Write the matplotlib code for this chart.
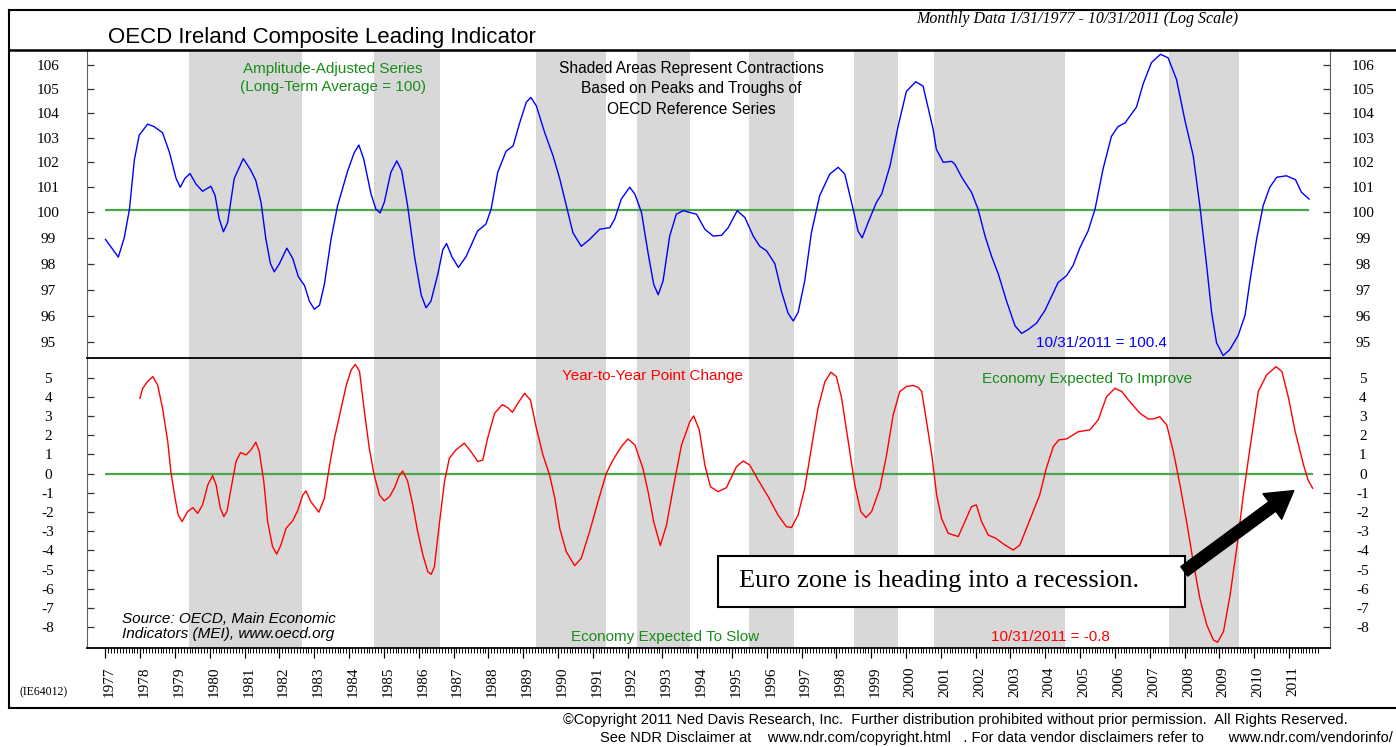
import numpy as np
import matplotlib.pyplot as plt
import matplotlib.transforms as mtransforms
from matplotlib.ticker import FixedLocator, FixedFormatter, NullLocator
from matplotlib.patches import Rectangle, FancyArrowPatch
from matplotlib.lines import Line2D

# ---- data ----
cli_dates = [1977.00, 1977.37, 1977.54, 1977.69, 1977.83, 1977.97, 1978.21, 1978.40, 1978.64, 1978.84,
             1979.03, 1979.15, 1979.28, 1979.43, 1979.60, 1979.79, 1980.03, 1980.15, 1980.27, 1980.39,
             1980.51, 1980.70, 1980.96, 1981.18, 1981.32, 1981.47, 1981.61, 1981.74, 1981.85, 1982.00,
             1982.21, 1982.38, 1982.54, 1982.72, 1982.86, 1983.00, 1983.15, 1983.29, 1983.48, 1983.67,
             1983.96, 1984.15, 1984.28, 1984.42, 1984.63, 1984.77, 1984.89, 1985.01, 1985.20, 1985.37,
             1985.51, 1985.68, 1985.88, 1986.07, 1986.21, 1986.35, 1986.55, 1986.69, 1986.80, 1986.95,
             1987.14, 1987.36, 1987.69, 1987.93, 1988.08, 1988.27, 1988.51, 1988.71, 1988.90, 1989.09,
             1989.22, 1989.38, 1989.62, 1989.86, 1990.05, 1990.24, 1990.43, 1990.67, 1990.91, 1991.20,
             1991.49, 1991.63, 1991.82, 1992.06, 1992.21, 1992.40, 1992.59, 1992.75, 1992.88, 1993.02,
             1993.21, 1993.40, 1993.60, 1993.79, 1993.98, 1994.22, 1994.46, 1994.70, 1994.89, 1995.15,
             1995.37, 1995.61, 1995.80, 1995.99, 1996.23, 1996.42, 1996.61, 1996.76, 1996.90, 1997.09,
             1997.28, 1997.52, 1997.81, 1998.05, 1998.24, 1998.48, 1998.62, 1998.74, 1998.91, 1999.15,
             1999.30, 1999.54, 1999.77, 2000.01, 2000.28, 2000.49, 2000.63, 2000.78, 2000.87, 2001.07,
             2001.31, 2001.40, 2001.60, 2001.88, 2002.07, 2002.27, 2002.46, 2002.65, 2002.89, 2003.13,
             2003.32, 2003.51, 2003.75, 2003.99, 2004.18, 2004.37, 2004.61, 2004.80, 2004.99, 2005.23,
             2005.43, 2005.66, 2005.90, 2006.09, 2006.29, 2006.62, 2006.81, 2007.05, 2007.31, 2007.53,
             2007.77, 2008.01, 2008.25, 2008.44, 2008.63, 2008.78, 2008.92, 2009.11, 2009.30, 2009.54,
             2009.74, 2009.88, 2010.07, 2010.26, 2010.45, 2010.65, 2010.93, 2011.19, 2011.36, 2011.58]
cli_values = [98.94, 98.25, 99.0, 100.13, 102.1, 103.1, 103.55, 103.45, 103.2, 102.4,
              101.35, 101.0, 101.35, 101.55, 101.13, 100.84, 101.04, 100.67, 99.74, 99.24,
              99.6, 101.35, 102.15, 101.67, 101.27, 100.4, 98.94, 98.0, 97.68, 98.0,
              98.6, 98.2, 97.5, 97.15, 96.55, 96.25, 96.4, 97.2, 98.94, 100.27,
              101.66, 102.4, 102.7, 102.13, 100.73, 100.13, 99.98, 100.4, 101.6, 102.06,
              101.66, 100.27, 98.27, 96.8, 96.3, 96.55, 97.6, 98.53, 98.78, 98.27,
              97.85, 98.27, 99.27, 99.54, 100.13, 101.6, 102.45, 102.66, 103.6, 104.45,
              104.65, 104.3, 103.2, 102.26, 101.35, 100.27, 99.2, 98.67, 98.94, 99.34,
              99.4, 99.74, 100.53, 101.0, 100.73, 100.0, 98.4, 97.2, 96.8, 97.33,
              99.07, 99.93, 100.07, 100.0, 99.93, 99.34, 99.07, 99.1, 99.4, 100.07,
              99.8, 99.07, 98.67, 98.5, 98.0, 96.93, 96.1, 95.8, 96.13, 97.33,
              99.2, 100.67, 101.53, 101.8, 101.53, 100.13, 99.27, 99.0, 99.6, 100.4,
              100.73, 101.86, 103.45, 104.9, 105.3, 105.12, 104.25, 103.33, 102.53, 102.0,
              102.04, 101.93, 101.4, 100.8, 100.13, 99.07, 98.27, 97.6, 96.55, 95.62,
              95.33, 95.48, 95.72, 96.2, 96.73, 97.27, 97.53, 97.93, 98.6, 99.27,
              100.13, 101.73, 103.05, 103.45, 103.6, 104.25, 105.2, 106.1, 106.45, 106.3,
              105.4, 103.72, 102.27, 100.27, 98.0, 96.12, 94.98, 94.5, 94.72, 95.25,
              96.02, 97.33, 98.94, 100.27, 101.0, 101.4, 101.46, 101.3, 100.8, 100.53]

yoy_dates = [1977.99, 1978.07, 1978.21, 1978.36, 1978.50, 1978.64, 1978.79, 1978.88, 1979.00, 1979.09,
             1979.20, 1979.36, 1979.51, 1979.65, 1979.79, 1979.94, 1980.08, 1980.18, 1980.30, 1980.40,
             1980.49, 1980.61, 1980.75, 1980.88, 1981.04, 1981.18, 1981.32, 1981.42, 1981.55, 1981.66,
             1981.80, 1981.92, 1982.04, 1982.19, 1982.38, 1982.52, 1982.67, 1982.76, 1982.90, 1983.13,
             1983.29, 1983.44, 1983.58, 1983.77, 1983.92, 1984.06, 1984.18, 1984.30, 1984.44, 1984.58,
             1984.71, 1984.87, 1985.01, 1985.16, 1985.30, 1985.44, 1985.54, 1985.68, 1985.83, 1985.97,
             1986.12, 1986.26, 1986.36, 1986.45, 1986.60, 1986.74, 1986.88, 1987.07, 1987.31, 1987.50,
             1987.70, 1987.84, 1987.98, 1988.18, 1988.40, 1988.55, 1988.69, 1988.85, 1989.04, 1989.21,
             1989.38, 1989.57, 1989.76, 1989.91, 1990.05, 1990.24, 1990.48, 1990.67, 1990.91, 1991.15,
             1991.39, 1991.58, 1991.82, 1992.01, 1992.21, 1992.44, 1992.59, 1992.75, 1992.94, 1993.12,
             1993.31, 1993.55, 1993.79, 1993.90, 1994.06, 1994.22, 1994.38, 1994.60, 1994.84, 1995.13,
             1995.32, 1995.51, 1995.75, 1996.04, 1996.32, 1996.56, 1996.71, 1996.90, 1997.09, 1997.28,
             1997.47, 1997.67, 1997.84, 1998.00, 1998.15, 1998.34, 1998.53, 1998.70, 1998.85, 1999.01,
             1999.25, 1999.44, 1999.63, 1999.82, 2000.01, 2000.20, 2000.35, 2000.45, 2000.59, 2000.74,
             2000.88, 2001.02, 2001.21, 2001.50, 2001.69, 2001.88, 2002.02, 2002.17, 2002.36, 2002.58,
             2002.84, 2003.08, 2003.27, 2003.46, 2003.65, 2003.84, 2004.03, 2004.23, 2004.39, 2004.61,
             2004.95, 2005.28, 2005.52, 2005.76, 2006.00, 2006.20, 2006.43, 2006.72, 2006.96, 2007.10,
             2007.29, 2007.49, 2007.68, 2007.87, 2008.06, 2008.25, 2008.44, 2008.64, 2008.83, 2008.95,
             2009.12, 2009.31, 2009.50, 2009.69, 2009.88, 2010.12, 2010.36, 2010.63, 2010.80, 2010.99,
             2011.18, 2011.42, 2011.55, 2011.68]
yoy_values = [3.93, 4.45, 4.8, 5.06, 4.62, 3.41, 1.67, 0.1, -1.28, -2.15,
              -2.5, -1.98, -1.77, -2.07, -1.63, -0.59, -0.1, -0.59, -1.8, -2.24,
              -1.98, -0.76, 0.63, 1.1, 0.98, 1.24, 1.64, 1.15, -0.42, -2.5,
              -3.8, -4.2, -3.72, -2.85, -2.45, -1.94, -1.11, -0.9, -1.46, -2.01,
              -1.28, 0.45, 1.85, 3.41, 4.62, 5.41, 5.7, 5.32, 3.23, 1.32,
              0.02, -1.11, -1.42, -1.2, -0.76, -0.1, 0.14, -0.38, -1.63, -3.02,
              -4.24, -5.11, -5.25, -4.85, -2.5, -0.42, 0.8, 1.24, 1.59, 1.15,
              0.63, 0.71, 1.85, 3.15, 3.6, 3.45, 3.2, 3.67, 4.19, 3.84,
              2.37, 0.97, -0.07, -1.28, -2.85, -4.07, -4.8, -4.41, -3.02, -1.46,
              0.02, 0.71, 1.41, 1.81, 1.5, 0.28, -0.94, -2.5, -3.75, -2.67,
              -0.76, 1.5, 2.71, 3.01, 2.28, 0.45, -0.68, -0.94, -0.73, 0.37,
              0.66, 0.45, -0.33, -1.2, -2.15, -2.76, -2.81, -2.15, -0.76, 1.32,
              3.41, 4.8, 5.29, 5.06, 3.93, 1.67, -0.59, -1.98, -2.29, -1.98,
              -0.76, 0.97, 3.06, 4.28, 4.54, 4.6, 4.5, 4.28, 2.71, 0.97,
              -1.11, -2.33, -3.11, -3.28, -2.5, -1.72, -1.63, -2.5, -3.2, -3.37,
              -3.72, -3.98, -3.72, -2.85, -1.98, -1.11, 0.28, 1.41, 1.76, 1.81,
              2.19, 2.28, 2.8, 4.01, 4.45, 4.28, 3.75, 3.15, 2.85, 2.85,
              2.97, 2.54, 1.15, -0.59, -2.5, -4.59, -6.5, -7.89, -8.67, -8.79,
              -8.24, -6.32, -3.89, -1.11, 1.32, 4.28, 5.15, 5.58, 5.32, 3.93,
              2.19, 0.45, -0.33, -0.76]

contraction_start = [1979.40, 1984.71, 1989.36, 1992.26, 1995.48, 1998.50, 2000.80, 2007.56]
contraction_end = [1982.64, 1986.62, 1991.37, 1993.78, 1996.78, 1999.76, 2004.56, 2009.56]

top_ticks = [95, 96, 97, 98, 99, 100, 101, 102, 103, 104, 105, 106]
bottom_ticks = [-8, -7, -6, -5, -4, -3, -2, -1, 0, 1, 2, 3, 4, 5]
years = list(range(1977, 2012))
long_term_avg = 100.1

# ---- figure, laid out in pixels ----
W, H = 1396, 747
fig = plt.figure(figsize=(W / 100, H / 100), dpi=100)
SANS = 'Liberation Sans'
SERIF = 'Liberation Serif'
GREEN_TXT = '#1a8c1a'
GREEN_LINE = '#4aa64a'
SHADE = '#d8d8d8'


def box(x0, y0, x1, y1):
    return [x0 / W, 1 - y1 / H, (x1 - x0) / W, (y1 - y0) / H]


def ftext(x, y, s, **kw):
    fig.text(x / W, 1 - y / H, s, **kw)


def fline(xs, ys, **kw):
    fig.add_artist(Line2D([x / W for x in xs], [1 - y / H for y in ys],
                          transform=fig.transFigure, clip_on=False, **kw))


ax1 = fig.add_axes(box(87, 50, 1330, 358))
ax2 = fig.add_axes(box(87, 358, 1330, 648))

for ax in (ax1, ax2):
    for s, e in zip(contraction_start, contraction_end):
        ax.axvspan(s, e, color=SHADE, lw=0, zorder=0)
    ax.set_xlim(1976.47, 2012.18)
    for side in ('left', 'right'):
        ax.spines[side].set_color('#606060')
    ax.tick_params(axis='y', which='both', direction='in', length=5, width=0.9,
                   left=True, right=True, labelleft=True, labelright=True,
                   labelsize=11, color='#303030', pad=28)

# top panel: composite leading indicator (log scale)
ax1.set_yscale('log')
ax1.set_ylim(94.41, 106.63)
ax1.hlines(long_term_avg, cli_dates[0], cli_dates[-1], color=GREEN_LINE, lw=1.6, zorder=2)
ax1.plot(cli_dates, cli_values, color='#0000ff', lw=1.0, zorder=3)
ax1.yaxis.set_major_locator(FixedLocator(top_ticks))
ax1.yaxis.set_major_formatter(FixedFormatter([str(t) for t in top_ticks]))
ax1.yaxis.set_minor_locator(NullLocator())
ax1.xaxis.set_major_locator(NullLocator())
ax1.xaxis.set_minor_locator(NullLocator())

# bottom panel: year-to-year change
ax2.set_ylim(-9.09, 6.03)
ax2.hlines(0, cli_dates[0], yoy_dates[-1], color=GREEN_LINE, lw=1.6, zorder=2)
ax2.plot(yoy_dates, yoy_values, color='#ff0000', lw=1.0, zorder=3)
ax2.yaxis.set_major_locator(FixedLocator(bottom_ticks))
ax2.yaxis.set_major_formatter(FixedFormatter([str(t) for t in bottom_ticks]))
ax2.spines['top'].set_linewidth(1.3)
ax2.spines['bottom'].set_linewidth(1.3)

# date axis
ax2.xaxis.set_major_locator(FixedLocator(years))
ax2.xaxis.set_minor_locator(FixedLocator(np.arange(1977, 2011.9, 1 / 12)))
ax2.xaxis.set_major_formatter(FixedFormatter([str(y) for y in years]))
ax2.tick_params(axis='x', which='major', direction='out', length=7, width=0.9,
                labelsize=11, pad=6, labelrotation=90)
ax2.tick_params(axis='x', which='minor', direction='out', length=3.5, width=0.7)
shift = mtransforms.ScaledTranslation(4 / 100, 0, fig.dpi_scale_trans)
for lab in ax2.get_xticklabels():
    lab.set_fontfamily(SERIF)
    lab.set_va('top')
    lab.set_transform(lab.get_transform() + shift)

right_shift = mtransforms.ScaledTranslation(-6 / 100, 0, fig.dpi_scale_trans)
for ax in (ax1, ax2):
    for tk in ax.yaxis.get_major_ticks():
        for lab in (tk.label1, tk.label2):
            lab.set_fontfamily(SERIF)
            lab.set_horizontalalignment('center')
        tk.label2.set_transform(tk.label2.get_transform() + right_shift)

# outer frame
fline([9, 1400], [10, 10], color='black', lw=1.5)
fline([9, 1400], [50, 50], color='black', lw=1.8)
fline([9, 1400], [708, 708], color='black', lw=1.5)
fline([9, 9], [10, 708], color='black', lw=1.5)

# texts
ftext(108, 37, 'OECD Ireland Composite Leading Indicator', family=SANS, fontsize=16, va='center')
ftext(1077, 19, 'Monthly Data 1/31/1977 - 10/31/2011 (Log Scale)', family=SERIF, style='italic',
      fontsize=11.5, ha='center', va='center')
ftext(333, 69, 'Amplitude-Adjusted Series', family=SANS, fontsize=11, color=GREEN_TXT,
      ha='center', va='center')
ftext(333, 87, '(Long-Term Average = 100)', family=SANS, fontsize=11, color=GREEN_TXT,
      ha='center', va='center')
for yy, s in zip([68, 88, 109], ['Shaded Areas Represent Contractions', 'Based on Peaks and Troughs of',
                                 'OECD Reference Series']):
    ftext(691, yy, s, family=SANS, fontsize=11.2, ha='center', va='center')
ftext(1101, 343, '10/31/2011 = 100.4', family=SANS, fontsize=11, color='#0000ff', ha='center', va='center')
ftext(653, 376, 'Year-to-Year Point Change', family=SANS, fontsize=11, color='#ff0000', ha='center', va='center')
ftext(1087, 379, 'Economy Expected To Improve', family=SANS, fontsize=11, color=GREEN_TXT,
      ha='center', va='center')
ftext(665, 637, 'Economy Expected To Slow', family=SANS, fontsize=11, color=GREEN_TXT,
      ha='center', va='center')
ftext(1050, 637, '10/31/2011 = -0.8', family=SANS, fontsize=11, color='#ff0000', ha='center', va='center')
ftext(122, 619, 'Source: OECD, Main Economic', family=SANS, style='italic', fontsize=11, va='center')
ftext(122, 634, 'Indicators (MEI), www.oecd.org', family=SANS, style='italic', fontsize=11, va='center')
ftext(20, 692, '(IE64012)', family=SERIF, fontsize=8.5, va='center')
ftext(1348, 720, '\u00a9Copyright 2011 Ned Davis Research, Inc.  Further distribution prohibited without '
      'prior permission.  All Rights Reserved.', family=SANS, fontsize=10.5, ha='right', va='center')
ftext(1393, 738, 'See NDR Disclaimer at    www.ndr.com/copyright.html   . For data vendor disclaimers '
      'refer to      www.ndr.com/vendorinfo/', family=SANS, fontsize=10.5, ha='right', va='center')

# annotation box and arrow
fig.add_artist(Rectangle((718 / W, 1 - 607 / H), (1185 - 718) / W, (607 - 556) / H,
                         transform=fig.transFigure, facecolor='white', edgecolor='black', lw=1.5,
                         zorder=5))
ftext(939, 581, 'Euro zone is heading into a recession.', family=SERIF, fontsize=19,
      ha='center', va='center', zorder=6)
fig.add_artist(FancyArrowPatch((1182 / W, 1 - 573 / H), (1296 / W, 1 - 489 / H),
                               transform=fig.transFigure,
                               arrowstyle='simple,head_length=1.6,head_width=1.9,tail_width=0.7',
                               mutation_scale=12, color='black', zorder=6))

fig.savefig('out.png', dpi=100)
